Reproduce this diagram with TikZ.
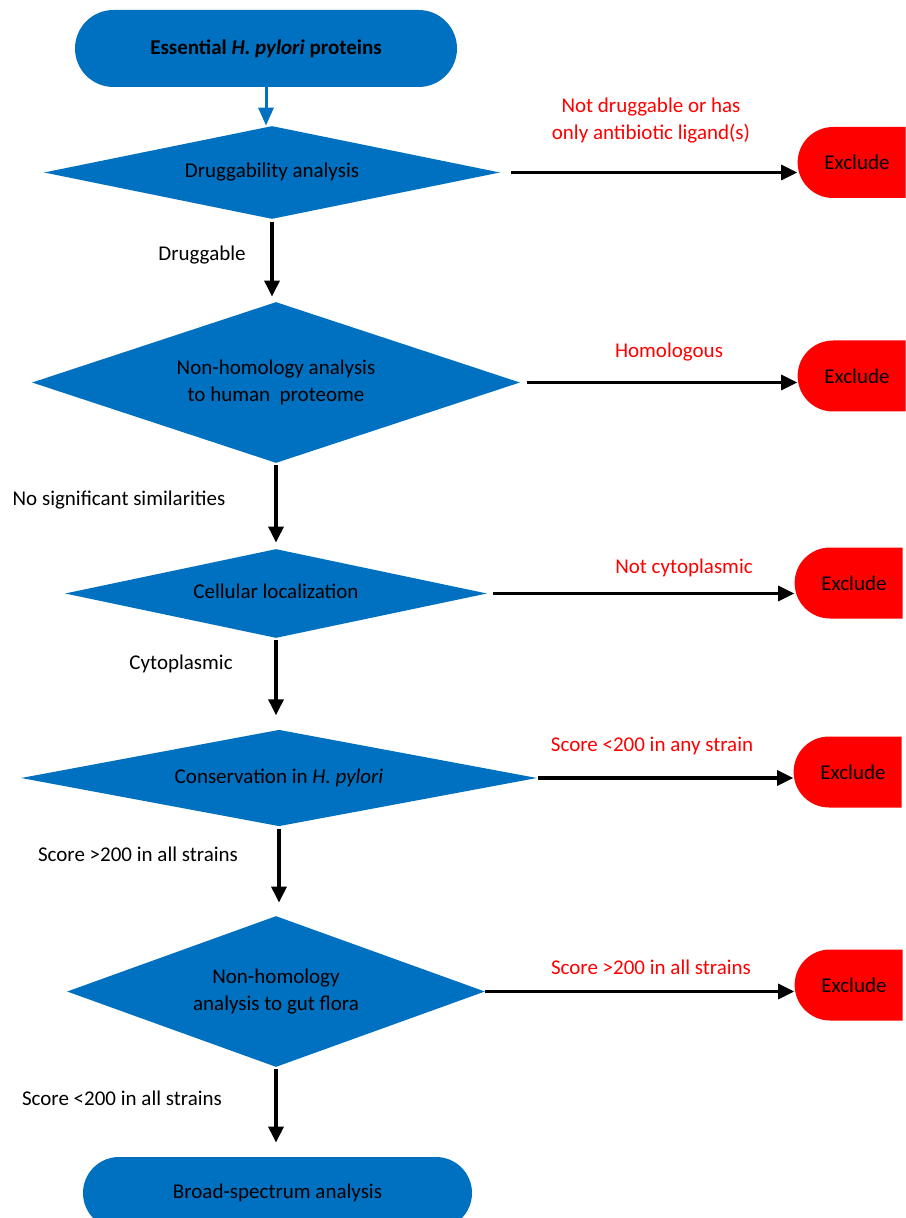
\documentclass[tikz,border=0pt]{standalone}
\usepackage{fontspec}
\setmainfont{Carlito}
\usetikzlibrary{shapes.geometric,shapes.misc,arrows.meta}
\definecolor{flowblue}{HTML}{0070C0}

\begin{document}
\begin{tikzpicture}[x=0.5pt,y=-0.5pt,font=\fontsize{10.5}{13.5}\selectfont]
	\tikzset{term/.style={rounded rectangle, fill=flowblue, minimum height=38.5pt, inner sep=0pt},
	         dec/.style={diamond, fill=flowblue, shape aspect=3, inner sep=0pt, align=center},
	         excl/.style={rounded rectangle, rounded rectangle right arc=none, fill=red, minimum width=54pt, minimum height=35.5pt, inner sep=0pt, execute at begin node={\hspace*{5pt}}},
	         arr/.style={line width=1.6pt, -{Triangle[length=8pt,width=7.5pt]}},
	         nolab/.style={text=red, align=center}}
	\useasboundingbox (0,0) rectangle (905,1218);

	%---NODES---
	\node[term, minimum width=191pt, font=\fontsize{10.5}{13.5}\selectfont\bfseries] (start) at (266,48.5) {Essential \textit{H. pylori} proteins};
	\node[dec, minimum width=228pt, minimum height=46.5pt] (d1) at (272,172.5) {\strut Druggability analysis};
	\node[dec, minimum width=244pt, minimum height=80.5pt] (d2) at (276,382.5) {Non-homology analysis\\to human\ \ proteome};
	\node[dec, minimum width=211pt, minimum height=44.5pt] (d3) at (276,593.5) {\strut Cellular localization};
	\node[dec, minimum width=258pt, minimum height=48pt] (d4) at (279,778) {\strut Conservation in \textit{H. pylori}};
	\node[dec, minimum width=209pt, minimum height=75.5pt] (d5) at (276,991.5) {Non-homology\\analysis to gut flora};
	\node[term, minimum width=194.5pt, minimum height=36pt] (stop) at (277.5,1193) {Broad-spectrum analysis};

	\node[excl] (x1) at (852,162.5) {Exclude};
	\node[excl] (x2) at (852,376) {Exclude};
	\node[excl] (x3) at (849,583) {Exclude};
	\node[excl] (x4) at (848,772) {Exclude};
	\node[excl] (x5) at (849,985) {Exclude};

	%---EDGES---
	\draw[flowblue, line width=1.5pt, -{Triangle[length=9pt,width=7.5pt]}] (start.south) -- (start.south |- d1.north);
	\draw[arr, shorten <=1.5pt, shorten >=2.5pt] (d1.south) -- (d1.south |- d2.north);
	\draw[arr, shorten <=1pt, shorten >=3pt] (d2.south) -- (d2.south |- d3.north);
	\draw[arr, shorten <=1pt, shorten >=7pt] (d3.south) -- (d3.south |- d4.north);
	\draw[arr, shorten <=1pt, shorten >=6.5pt] (d4.south) -- (d4.south |- d5.north);
	\draw[arr, shorten <=1pt, shorten >=7pt] (d5.south) -- (d5.south |- stop.north);

	\draw[arr, shorten <=5.5pt] (d1.east) -- (d1.east -| x1.west);
	\draw[arr, shorten <=3.5pt] (d2.east) -- (d2.east -| x2.west);
	\draw[arr, shorten <=3pt] (d3.east) -- (d3.east -| x3.west);
	\draw[arr, shorten <=0.5pt] (d4.east) -- (d4.east -| x4.west);
	\draw[arr] (d5.east) -- (d5.east -| x5.west);

	%---LABELS---
	\node (l1) at (202,255) {Druggable};
	\node (l2) at (119,500) {No significant similarities};
	\node (l3) at (181,664) {Cytoplasmic};
	\node (l4) at (138,854) {Score >200 in all strains};
	\node (l5) at (122,1098) {Score <200 in all strains};

	\node[nolab] (n1) at (651,120.5) {Not druggable or has\\only antibiotic ligand(s)};
	\node[nolab] (n2) at (669,352) {Homologous};
	\node[nolab] (n3) at (684,568) {Not cytoplasmic};
	\node[nolab] (n4) at (652,746) {Score <200 in any strain};
	\node[nolab] (n5) at (651,967) {Score >200 in all strains};

\end{tikzpicture}
\end{document}
